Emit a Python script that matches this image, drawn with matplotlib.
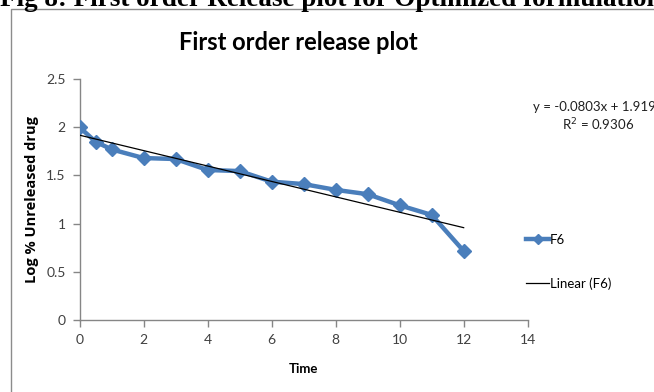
import numpy as np
import matplotlib
matplotlib.use("Agg")
import matplotlib.pyplot as plt
from matplotlib.patches import Rectangle

# data
time = [0, 0.5, 1, 2, 3, 4, 5, 6, 7, 8, 9, 10, 11, 12]
log_unreleased = [2.0, 1.85, 1.77, 1.68, 1.67, 1.556, 1.545, 1.435,
                  1.41, 1.35, 1.305, 1.19, 1.09, 0.716]
x_ticks = [0, 2, 4, 6, 8, 10, 12, 14]
y_ticks = [0, 0.5, 1, 1.5, 2, 2.5]

W, H = 654, 392
plt.rcParams['font.family'] = ['Lato', 'DejaVu Sans']

fig = plt.figure(figsize=(W / 100, H / 100), dpi=100)
fig.patch.set_facecolor("white")

# cropped chart border and caption (the caption is clipped at the top in the source)
fig.patches.append(Rectangle((11 / W, -0.1), 1.2, 1 - 9 / H + 0.1,
                             transform=fig.transFigure, fill=False,
                             edgecolor="#8c8c8c", lw=1.0))
fig.text(0.0, 1 - 6 / H, "Fig 8: First order Release plot for Optimized formulation",
         family="Liberation Serif", weight="bold", fontsize=19.5,
         ha="left", va="baseline", color="black")

ax = fig.add_axes([79.5 / W, 1 - 320 / H, (527.7 - 79.5) / W, (320 - 79) / H])

blue = "#4a7ebb"
ax.plot(time, log_unreleased, color=blue, lw=3.2, marker="D", ms=7,
        markerfacecolor=blue, markeredgecolor=blue, label="F6", zorder=3)

slope, intercept = np.polyfit(time, log_unreleased, 1)
xs = np.array([time[0], time[-1]])
ax.plot(xs, slope * xs + intercept, color="black", lw=0.9,
        label="Linear (F6)", zorder=4)

ax.set_xlim(0, 14)
ax.set_ylim(0, 2.5)
ax.set_xticks(x_ticks)
ax.set_yticks(y_ticks)
ax.set_xticklabels([str(t) for t in x_ticks])
ax.set_yticklabels([f"{t:g}" for t in y_ticks])
for s in ["top", "right"]:
    ax.spines[s].set_visible(False)
for s in ["left", "bottom"]:
    ax.spines[s].set_color("#868686")
    ax.spines[s].set_linewidth(1.0)
ax.tick_params(direction="out", length=5, width=1, color="#868686",
               labelsize=10, labelcolor="#404040", pad=5)

ax.set_xlabel("Time", fontsize=9.5, weight="bold", labelpad=12)
ax.set_ylabel("Log % Unreleased drug", family="Open Sans", fontsize=10.5,
              weight="bold", labelpad=5)

ax.set_title("First order release plot", fontsize=17, weight="bold",
             x=(298 - 79.5) / (527.7 - 79.5), y=1.0, pad=21)

fig.text(598 / W, 1 - 130 / H, "y = -0.0803x + 1.9199\nR$^2$ = 0.9306",
         fontsize=9.5, ha="center", va="baseline", multialignment="center",
         color="#202020", linespacing=1.25)

ax.legend(loc="center left", bbox_to_anchor=(526 / W, 1 - 262 / H),
          bbox_transform=fig.transFigure, frameon=False, fontsize=9.5,
          handlelength=1.75, handletextpad=0.05, labelspacing=2.4,
          borderpad=0, borderaxespad=0, markerscale=0.8)

plt.savefig("out.png", dpi=100)
